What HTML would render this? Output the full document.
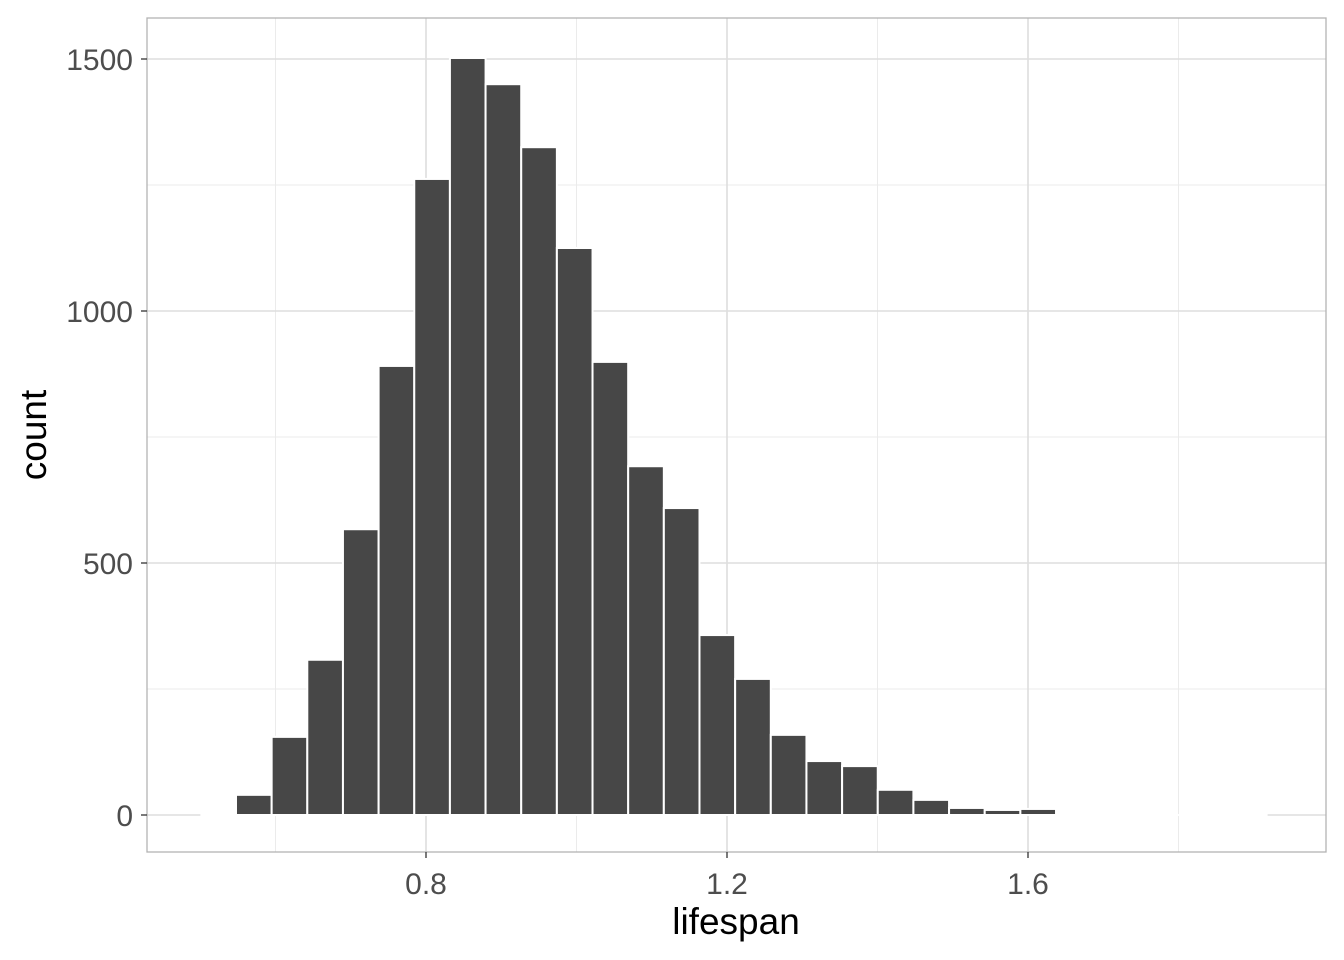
<!DOCTYPE html>
<html><head><meta charset="utf-8"><style>
html,body{margin:0;padding:0;background:#fff;}
svg{display:block;font-family:"Liberation Sans",Arial,sans-serif;}
</style></head><body>
<svg id="chart" width="1344" height="960">
<rect x="147" y="18" width="1179" height="834" fill="#fff"/>
<g id="grid"></g>
<g id="bars"></g>
<rect x="147" y="18" width="1179" height="834" fill="none" stroke="#b3b3b3" stroke-width="1.3"/>
<g id="axes"></g>
<text x="736" y="934" text-anchor="middle" font-size="37" fill="#000">lifespan</text>
<text transform="translate(46,435) rotate(-90)" text-anchor="middle" font-size="37" fill="#000">count</text>
</svg>
<script>
const binStart = 0.5475;
const binWidth = 0.04738;
const counts = [40,155,308,567,891,1262,1502,1450,1325,1125,899,692,609,357,270,159,107,97,50,30,14,10,12];
const xMajor = [0.8,1.2,1.6];
const xMajorLabels = ["0.8","1.2","1.6"];
const xMinor = [0.6,1.0,1.4,1.8];
const yMajor = [0,500,1000,1500];
const yMajorLabels = ["0","500","1000","1500"];
const yMinor = [250,750,1250];

const NS="http://www.w3.org/2000/svg";
function X(v){return 426+(v-0.8)*752.5;}
function Y(v){return 815-v*0.504;}
function mk(tag,attrs,parent){const e=document.createElementNS(NS,tag);for(const k in attrs)e.setAttribute(k,attrs[k]);document.getElementById(parent).appendChild(e);return e;}

xMinor.forEach(v=>{const l=mk('line',{x1:X(v),x2:X(v),y1:18,y2:852,stroke:'#ebebeb','stroke-width':1},'grid');

});
yMinor.forEach(v=>{const l=mk('line',{x1:147,x2:1326,y1:Y(v),y2:Y(v),stroke:'#ebebeb','stroke-width':1},'grid');

});
xMajor.forEach((v,i)=>{const l=mk('line',{x1:X(v),x2:X(v),y1:18,y2:852,stroke:'#dedede','stroke-width':1.6},'grid');


const t=mk('line',{x1:X(v),x2:X(v),y1:852,y2:858,stroke:'#333','stroke-width':1.3},'axes');


const tx=mk('text',{x:X(v),y:894,'text-anchor':'middle','font-size':30,fill:'#4d4d4d'},'axes');
tx.textContent=xMajorLabels[i];

});
yMajor.forEach((v,i)=>{const l=mk('line',{x1:147,x2:1326,y1:Y(v),y2:Y(v),stroke:'#dedede','stroke-width':1.6},'grid');


const t=mk('line',{x1:141,x2:147,y1:Y(v),y2:Y(v),stroke:'#333','stroke-width':1.3},'axes');


const tx=mk('text',{x:133,y:Y(v)+11,'text-anchor':'end','font-size':30,fill:'#4d4d4d'},'axes');
tx.textContent=yMajorLabels[i];

});

const z=mk('line',{x1:X(binStart-binWidth),x2:X(binStart+binWidth*30)-38,y1:Y(0),y2:Y(0),stroke:'#fff','stroke-width':2},'bars');


counts.forEach((c,i)=>{const x0=X(binStart+i*binWidth),x1=X(binStart+(i+1)*binWidth);
const r=mk('rect',{x:x0,y:Y(c),width:x1-x0,height:Y(0)-Y(c),fill:'#474747',stroke:'#fff','stroke-width':2},'bars');

});
</script>
</body></html>
